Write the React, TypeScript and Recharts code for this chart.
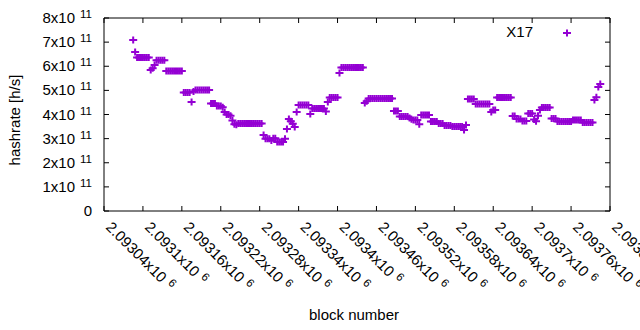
import React from 'react';
import { ScatterChart, Scatter, XAxis, YAxis, ReferenceArea } from 'recharts';

const COLOR = '#9400d3';
const FONT = '"Liberation Sans", Arial, sans-serif';

// first sampled block, samples every BLOCK_STEP blocks
const FIRST_BLOCK = 2093085;
const BLOCK_STEP = 3;

// hashrate in units of 1e11 h/s
const hashrateE11 = [
  7.09, 6.59,
  6.36, 6.36, 6.36, 6.36, 6.36, 6.36, 6.36,
  5.84, 5.92, 6.05,
  6.25, 6.25, 6.25, 6.25, 6.25,
  5.8, 5.8, 5.8, 5.8, 5.8, 5.8, 5.8, 5.8, 5.8,
  4.91, 4.91, 4.91, 4.91, 4.52, 4.95,
  5.02, 5.02, 5.02, 5.02, 5.02, 5.02, 5.02, 5.02,
  4.46, 4.46, 4.46, 4.35, 4.35, 4.35, 4.3, 4.1,
  4.0, 4.0, 3.95, 3.75, 3.6, 3.58,
  3.63, 3.63, 3.63, 3.63, 3.63, 3.63, 3.63, 3.63, 3.63, 3.63, 3.63, 3.63, 3.63,
  3.15, 3.0, 3.0, 3.0, 2.92, 3.02, 3.02,
  2.86, 2.86, 2.86, 2.86, 3.0, 3.4,
  3.81, 3.72, 3.62, 3.48, 4.1,
  4.39, 4.39, 4.39, 4.39, 4.39, 4.39, 4.02,
  4.25, 4.25, 4.25, 4.25, 4.25, 4.25, 4.25, 4.12, 4.52,
  4.7, 4.7, 4.7, 4.7, 4.7, 5.72,
  5.95, 5.95, 5.95, 5.95, 5.95, 5.95, 5.95, 5.95, 5.95, 5.95, 5.95, 5.95,
  4.48, 4.55,
  4.66, 4.66, 4.66, 4.66, 4.66, 4.66, 4.66, 4.66, 4.66, 4.66, 4.66, 4.66, 4.66,
  4.15, 4.15, 4.15,
  3.92, 3.92, 3.92, 3.92, 3.92, 3.85, 3.8,
  3.77, 3.77, 3.77, 3.6,
  3.98, 3.98, 3.98, 3.98, 3.98,
  3.71, 3.71, 3.71, 3.71,
  3.63, 3.63, 3.63,
  3.54, 3.54, 3.54, 3.54,
  3.5, 3.5, 3.5, 3.5, 3.5, 3.5, 3.36, 3.56,
  4.64, 4.64, 4.64, 4.64,
  4.44, 4.44, 4.44, 4.44, 4.44, 4.44, 4.44, 4.44,
  4.1, 4.19, 4.19,
  4.7, 4.7, 4.7, 4.7, 4.7, 4.7, 4.7, 4.7,
  3.94, 3.94, 3.81, 3.81, 3.81, 3.73, 3.73, 3.73,
  4.04, 4.04, 4.04, 3.79, 3.72, 3.95, 4.19,
  4.29, 4.29, 4.29, 4.29, 4.29,
  3.83, 3.83, 3.83,
  3.71, 3.71, 3.71, 3.71, 3.71, 3.71, 3.71, 3.71,
  3.77, 3.77, 3.77, 3.77, 3.77,
  3.67, 3.67, 3.67, 3.67, 3.67, 3.67,
  4.6, 4.72, 5.14, 5.26,
];

const xTicks = [
  2093040, 2093100, 2093160, 2093220, 2093280, 2093340, 2093400,
  2093460, 2093520, 2093580, 2093640, 2093700, 2093760, 2093820,
];
const yTicks = [0, 1, 2, 3, 4, 5, 6, 7, 8];
const seriesName = 'X17';

const data = hashrateE11.map((h, i) => ({
  block: FIRST_BLOCK + i * BLOCK_STEP,
  hashrate: h,
}));

// plot box
const LEFT = 104;
const RIGHT = 610;
const TOP = 18;
const BOTTOM = 211;

const Plus = ({ cx, cy }: any) => (
  <path
    d={`M${cx - 4},${cy}H${cx + 4}M${cx},${cy - 3.5}V${cy + 3.5}`}
    stroke={COLOR}
    strokeWidth={2}
    fill="none"
  />
);

const XTick = ({ x, payload }: any) => {
  const label = parseFloat((payload.value / 1e6).toFixed(5)).toString();
  const ty = 228;
  return (
    <g>
      <line x1={x} y1={BOTTOM} x2={x} y2={BOTTOM - 5} stroke="#000" />
      <line x1={x} y1={TOP} x2={x} y2={TOP + 5} stroke="#000" />
      <text
        x={x + 1}
        y={ty}
        transform={`rotate(45 ${x + 1} ${ty})`}
        fontSize={15}
        fontFamily={FONT}
        fill="#000"
      >
        {label}x10
        <tspan dx={5} dy={-5} fontSize={11.5}>6</tspan>
      </text>
    </g>
  );
};

const YTick = ({ y, payload }: any) => {
  const v = payload.value;
  return (
    <g>
      <line x1={LEFT} y1={y} x2={LEFT + 5} y2={y} stroke="#000" />
      <line x1={RIGHT} y1={y} x2={RIGHT - 5} y2={y} stroke="#000" />
      <text x={92} y={y + 5} textAnchor="end" fontSize={15} fontFamily={FONT} fill="#000">
        {v === 0 ? '0' : `${v}x10`}
        {v !== 0 && <tspan dx={5} dy={-5} fontSize={11.5}>11</tspan>}
      </text>
    </g>
  );
};

export default function App() {
  return (
    <div style={{ position: 'absolute', left: 0, top: 0, background: '#fff' }}>
      <ScatterChart
        width={640}
        height={330}
        margin={{ top: TOP, right: 640 - RIGHT, bottom: 330 - BOTTOM - 30, left: LEFT - 60 }}
      >
        <XAxis
          type="number"
          dataKey="block"
          domain={[2093040, 2093820]}
          ticks={xTicks}
          interval={0}
          height={30}
          axisLine={false}
          tickLine={false}
          tick={(p: any) => <XTick {...p} />}
          allowDataOverflow
        />
        <YAxis
          type="number"
          dataKey="hashrate"
          domain={[0, 8]}
          ticks={yTicks}
          interval={0}
          width={60}
          axisLine={false}
          tickLine={false}
          tick={(p: any) => <YTick {...p} />}
          allowDataOverflow
        />
        <ReferenceArea
          x1={2093040}
          x2={2093820}
          y1={0}
          y2={8}
          fill="none"
          fillOpacity={0}
          stroke="#000"
          strokeWidth={1}
          strokeOpacity={1}
        />
        <Scatter
          name={seriesName}
          data={data}
          shape={<Plus />}
          isAnimationActive={false}
        />
        <text x={533} y={37} textAnchor="end" fontSize={15} fontFamily={FONT} fill="#000">
          {seriesName}
        </text>
        <Plus cx={567} cy={33} />
        <text x={354} y={320} textAnchor="middle" fontSize={15} fontFamily={FONT} fill="#000">
          block number
        </text>
        <text
          x={20}
          y={120}
          transform="rotate(-90 20 120)"
          textAnchor="middle"
          fontSize={15}
          fontFamily={FONT}
          fill="#000"
        >
          hashrate [h/s]
        </text>
      </ScatterChart>
    </div>
  );
}
